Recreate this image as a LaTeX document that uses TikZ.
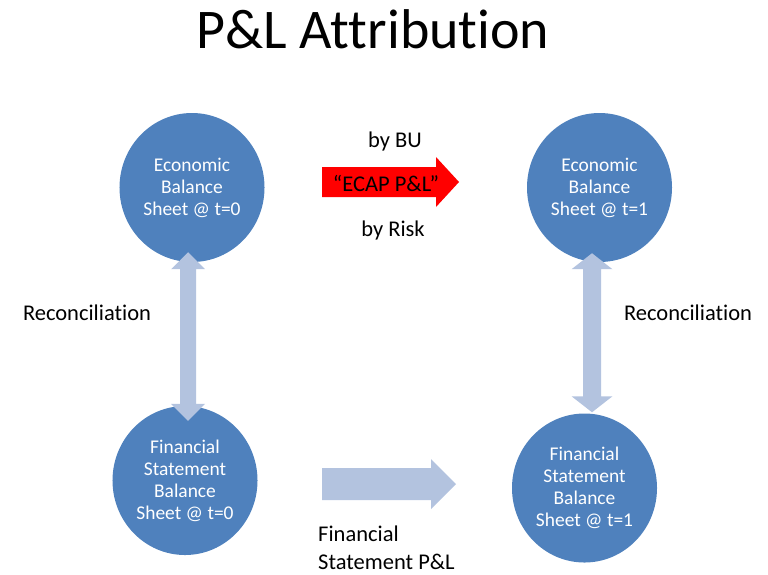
\documentclass[tikz,border=0pt]{standalone}
\usepackage{fontspec}
\setmainfont{Carlito}[Ligatures={TeX,NoCommon}]
\usetikzlibrary{calc, shapes.geometric}
\definecolor{sheetblue}{HTML}{4F81BD}
\definecolor{flowblue}{HTML}{B3C3DF}
\tikzset{sheet/.style={ellipse, fill=sheetblue, text=white, align=center, inner sep=0pt, minimum width=4.35cm, minimum height=4.47cm, font=\fontsize{16.6}{18.8}\selectfont}}
\tikzset{lbl/.style={font=\fontsize{19.2}{23.4}\selectfont, inner sep=0pt}}
% block arrow #2 -> #3: shaft half width #4, head half width #5, head length #6
\newcommand{\fatarrow}[6]{\coordinate (hb) at ($(#3)!#6!(#2)$);
\fill[#1] ($(#2)!#4!90:(#3)$) -- ($(hb)!#4!-90:(#2)$) -- ($(hb)!#5!-90:(#2)$) -- (#3) -- ($(hb)!#5!90:(#2)$) -- ($(hb)!#4!90:(#2)$) -- ($(#2)!#4!-90:(#3)$) -- cycle;}
% same with a head at both ends
\newcommand{\fatdoublearrow}[6]{\coordinate (hba) at ($(#2)!#6!(#3)$); \coordinate (hbb) at ($(#3)!#6!(#2)$);
\fill[#1] (#2) -- ($(hba)!#5!90:(#3)$) -- ($(hba)!#4!90:(#3)$) -- ($(hbb)!#4!-90:(#2)$) -- ($(hbb)!#5!-90:(#2)$) -- (#3) -- ($(hbb)!#5!90:(#2)$) -- ($(hbb)!#4!90:(#2)$) -- ($(hba)!#4!-90:(#3)$) -- ($(hba)!#5!-90:(#3)$) -- cycle;}

\begin{document}
\begin{tikzpicture}[x=0.03cm, y=-0.03cm]
\useasboundingbox (0,0) rectangle (768,574);
\node[font=\fontsize{47.8}{57}\selectfont, anchor=base] (title) at (373,48) {P\&L Attribution};
% balance sheets
\node[sheet] (eb0) at (192,187.5) {Economic\\Balance\\Sheet @ t=0};
\node[sheet] (eb1) at (599.5,187.5) {Economic\\Balance\\Sheet @ t=1};
\node[sheet] (fs0) at (185,480.5) {Financial\\Statement\\Balance\\Sheet @ t=0};
\node[sheet] (fs1) at (584.5,488) {Financial\\Statement\\Balance\\Sheet @ t=1};
% arrow ends
\coordinate (ecap0) at (322,182); \coordinate (ecap1) at (459,182);
\coordinate (fsp0) at (322,484); \coordinate (fsp1) at (456,484);
\coordinate (rec0a) at ([shift={(-4,-10)}]eb0.south); \coordinate (rec0b) at ([shift={(3,15)}]fs0.north);
\coordinate (rec1a) at ([shift={(-7.5,-9)}]eb1.south); \coordinate (rec1b) at ([shift={(7.5,-1)}]fs1.north);
\fatarrow{red}{ecap0}{ecap1}{0.45cm}{0.75cm}{0.69cm}
\fatarrow{flowblue}{fsp0}{fsp1}{0.48cm}{0.75cm}{0.75cm}
\fatdoublearrow{flowblue}{rec0a}{rec0b}{0.24cm}{0.51cm}{0.51cm}
\fatdoublearrow{flowblue}{rec1a}{rec1b}{0.27cm}{0.615cm}{0.48cm}
% labels
\node[lbl, anchor=base] (bybu) at (395,147) {by BU};
\node[lbl, anchor=base] (ecap) at (386,191) {“ECAP P\&L”};
\node[lbl, anchor=base] (byrisk) at (393,236) {by Risk};
\node[lbl, anchor=base] (rec0) at (87,320) {Reconciliation};
\node[lbl, anchor=base] (rec1) at (688,320) {Reconciliation};
\node[lbl, anchor=base west, align=left] (fsp) at (318,569) {Financial\\Statement P\&L};
\end{tikzpicture}
\end{document}
